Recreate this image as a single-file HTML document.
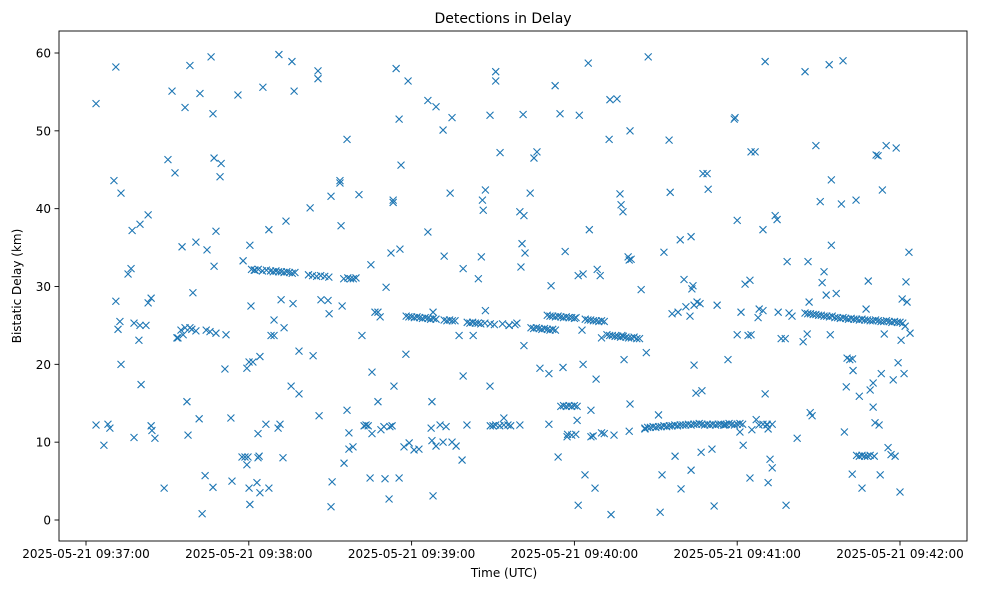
<!DOCTYPE html>
<html><head><meta charset="utf-8"><style>
html,body{margin:0;padding:0;background:#fff;}
svg{display:block;font-family:"DejaVu Sans","Liberation Sans",sans-serif;}
</style></head><body>
<svg id="chart" width="981" height="590" viewBox="0 0 981 590" xmlns="http://www.w3.org/2000/svg">
<rect x="0" y="0" width="981" height="590" fill="#fff"/>
<text x="503" y="23" text-anchor="middle" font-size="14">Detections in Delay</text>
<g id="marks"></g>
<rect x="59" y="31" width="908" height="510" fill="none" stroke="#000" stroke-width="0.9"/>
<g id="xticks"></g>
<g id="yticks"></g>
<text x="504" y="577" text-anchor="middle" font-size="12">Time (UTC)</text>
<text x="21" y="286" text-anchor="middle" font-size="12" transform="rotate(-90 21 286)">Bistatic Delay (km)</text>
</svg>
<script>
// seconds after 2025-05-21 09:37:00
const times = [3.7,3.7,6.6,8.1,8.8,11,10.3,11,11.8,12.5,12.9,12.9,15.5,16.6,17,17.7,17.7,19.5,19.9,20.3,19.9,22.1,22.9,22.9,24,24,24.3,25.4,28.8,30.2,31.7,32.8,33.5,33.9,35,35.4,35.8,36.5,36.5,37.2,37.6,38.3,38.3,39,39.4,40.5,40.5,41.7,42,42.8,43.9,44.3,44.6,45.7,46.1,46.8,46.8,47.2,47.2,47.9,47.9,49.8,49.4,51.2,51.6,53.4,53.8,56,57.5,57.9,58.6,59.7,59.3,60.1,60.4,60.1,60.8,60.4,59.3,61.5,62.3,63,63.4,63.4,63.8,64.1,64.1,65.2,66.3,67.4,67.4,68.2,69.3,69.3,70.8,71.1,71.5,71.9,72.6,73,73.7,75.6,75.9,76.3,76.7,78.5,78.5,
61,62,63.5,65,66.5,68,69,70,71,72,73,74,75,76,77,82,83.5,85,86.5,88,89.5,95,96.5,97.5,98.5,99.5,
82.6,83.7,85.5,85.5,85.9,86.6,89.2,89.6,90.3,90.7,90.3,93.6,93.6,94,94.4,95.1,96.2,96.2,96.9,96.9,98.4,100.6,101.7,102.5,103.2,104,104.7,105.4,105,105.4,106.5,107.6,107.6,108.4,108.7,109.8,110.2,110.6,111.7,112.4,112,112.8,113.2,113.2,113.5,114.3,115.4,115.4,115.7,116.1,117.2,117.9,118.7,119.1,120.9,122.7,126,126,127.2,127.5,127.5,127.9,127.9,129,129,130.5,131.6,131.6,132,132.7,134.2,134.9,134.9,136.4,137.5,138.6,139,139,140.4,
118,119,120,121,122,123,124,125,126,127,128,129,132,133,134,135,136,
140.5,141.5,142.5,143.5,144.5,145.5,147,149,150.5,153.5,156,149,150,151,152.5,154,156.5,
142.7,144.6,145.7,146.1,146.4,147.2,147.2,148.9,148.9,151,151,152.6,154,155.5,155.9,158.1,158.8,159.9,159.9,160.3,160.7,161.1,161.4,161.8,161.4,163.7,165.1,166.2,167.3,170.6,170.6,171.4,172.9,174,174.7,175.8,176.6,177.3,180.6,181.4,181,181.4,181.8,182.8,183.2,183.2,183.9,185.1,185.5,186.1,186.1,186.9,188,187.6,188.4,189.5,190,190,191,192.8,193.1,193.5,194.6,195.7,196.8,197.2,197.5,197.9,198.3,199.8,200.2,200.5,200.5,200.2,200.9,204.6,206.5,206,207.2,
164,165,166,167,168,169,170,171,172,173,170,171,172,173,174,175,176,177,178,179,180,175,176,177,178,179,180,181,177.5,179,180.5,184,185,186,187,188,189,190,191,192,193,194,195,196,197,198,199,200,201,202,203,204,
206,207,208,209,210,211,212,213,214,215,216,217,218,219,220,221,222,223,224,225,226,227,228,229,230,231,232,233,234,235,236,237,238,239,240,241,242,248,249.5,251,
211,211.6,212.3,213,214.9,215.3,216,217.1,218.2,219,219.3,220.4,221.1,222.6,223,223,223.3,223.7,224.1,224.1,224.8,225.2,226.3,226.7,227,227.4,228.9,229.3,230.7,231.5,232.6,235.5,236.6,238.9,239.2,240,240,241,241.4,242.2,242.9,244,244.7,244.7,245.1,245.4,245.1,246.6,247,247.7,248.1,249.5,249.5,250.3,250.3,251,251.4,251.4,252.1,252.9,252.9,254,254.7,255.1,256.2,257.7,258,258.4,259.1,260.2,262.1,264.3,265,265.8,266.1,266.5,266.9,267.6,269,270.6,271.3,272,272.8,273.9,274.3,274.7,274.7,276.5,278.4,279,279.5,280.2,282.4,282.7,283.8,285,286,287.5,288.3,289,290.1,290.1,290.8,291.2,291.9,292.3,292.7,293.1,293.5,294.2,294.9,295.6,296.7,297.5,298.2,298.6,299.3,300,300.4,300.8,301.5,301.9,302.2,302.6,303.3,303.7,
265,266,267,268,269,270,271,272,273,274,275,276,277,278,279,280,281,282,283,284,285,286,287,288,289,290,291,292,293,294,295,296,297,298,299,300,301,
284,285,286,287,288,289,290.5,280.5,281.5,282.5];
const delays = [53.5,12.2,9.6,12.3,11.8,58.2,43.6,28.1,24.5,25.5,20,42,31.6,32.3,37.2,10.6,25.3,23.1,38,17.4,25,25,27.9,39.2,28.5,12.1,11.5,10.5,4.1,46.3,55.1,44.6,23.4,23.4,24.4,35.1,23.8,53,24.7,15.2,10.9,58.4,24.7,24.5,29.2,35.7,24.3,13,54.8,0.8,5.7,24.4,34.7,24.2,59.5,4.2,52.2,32.6,46.5,37.1,24,45.8,44.1,19.4,23.8,13.1,5,54.6,8.1,33.3,8.1,8.1,7.1,4.1,2,20.3,27.5,35.3,19.5,20.3,32.1,4.8,11.1,8,8.2,3.5,21,55.6,12.3,4.1,37.3,23.7,23.7,25.7,11.8,59.8,12.3,28.3,8,24.7,38.4,17.2,58.9,27.8,55.1,16.2,21.7,
32.2,32.1,32.2,32,32.1,32,31.9,32,31.9,31.9,31.8,31.9,31.8,31.7,31.8,31.5,31.4,31.3,31.4,31.3,31.2,31,31.1,31,31,31.1,
40.1,21.1,57.7,56.7,13.4,28.3,28.2,26.5,1.7,4.9,41.6,43.3,43.6,37.8,27.5,7.3,48.9,14.1,9.1,11.2,9.4,41.8,23.7,12.1,12.2,12.1,5.4,11.1,32.8,19,26.7,26.7,15.2,26.1,11.6,12,5.3,29.9,2.7,34.3,12,12.1,40.8,41.1,17.2,58,51.5,5.4,34.8,45.6,9.4,21.3,56.4,9.9,9,9.1,53.9,37,11.8,15.2,10.2,26.7,3.1,53.1,9.5,12.2,50.1,10,33.9,12,42,51.7,10,9.5,23.7,7.7,18.5,32.3,12.2,
26.2,26.1,26.1,26,26.1,26,25.9,26,25.9,25.8,25.9,25.8,25.7,25.6,25.7,25.6,25.6,
25.4,25.3,25.4,25.3,25.3,25.2,25.3,25.2,25.1,25.2,25,12.1,12.1,12.2,12.1,12.2,12.1,
23.7,31,33.8,41.1,39.8,42.4,26.9,17.2,52,56.4,57.6,47.2,13.1,12.2,25,25.1,25.3,12.2,39.6,32.5,35.5,52.1,22.4,34.3,39.1,42,46.5,47.3,19.5,18.8,12.3,30.1,55.8,8.1,52.2,19.6,34.5,10.7,26,1.9,12.8,31.4,52,24.4,31.6,20,5.8,58.7,37.3,10.7,14.1,10.8,18.1,4.1,32.2,31.4,23.4,11.2,11.1,48.9,54,0.7,10.9,54.1,41.9,40.5,23.7,39.6,20.6,33.8,33.4,50,14.9,11.4,33.5,29.6,21.5,11.7,59.5,
24.7,24.6,24.7,24.6,24.5,24.6,24.5,24.4,24.5,24.4,26.3,26.2,26.2,26.1,26.2,26.1,26,26.1,26,26,25.9,14.6,14.7,14.6,14.7,14.6,14.7,14.6,11,10.9,11,25.8,25.7,25.7,25.6,25.6,25.5,25.6,25.5,23.8,23.7,23.7,23.6,23.6,23.5,23.6,23.5,23.4,23.4,23.5,23.3,23.3,
11.8,11.9,11.9,12,11.9,12,12,12.1,12,12.1,12.1,12.2,12.1,12.2,12.2,12.2,12.3,12.2,12.3,12.3,12.4,12.3,12.2,12.3,12.2,12.3,12.2,12.3,12.3,12.2,12.3,12.4,12.3,12.2,12.3,12.4,12.3,12.2,12.3,12.2,
13.5,1,5.8,34.4,48.8,42.1,26.5,8.2,26.7,36,4,30.9,27.4,26.2,36.4,6.4,29.7,30.1,19.9,27.6,16.3,28,27.8,8.7,16.6,44.5,44.5,42.5,9.1,1.8,27.6,12.2,20.6,51.5,51.7,38.5,23.8,11.3,26.7,9.6,30.3,23.7,30.8,5.4,23.8,11.6,47.3,47.3,12.9,26,27.1,26.9,37.3,58.9,16.2,12.3,4.8,11.7,7.8,12.3,6.7,39.1,38.6,26.7,23.3,23.3,1.9,33.2,26.6,26.2,10.5,22.9,57.6,23.9,33.2,28,13.8,13.4,48.1,40.9,30.5,31.9,28.9,58.5,23.8,35.3,43.7,29.1,40.6,59,11.3,17.1,5.9,19.2,41.1,15.9,4.1,27.1,30.7,16.7,17.6,14.5,12.5,46.9,46.8,12.2,5.8,18.8,42.4,23.9,48.1,9.3,8.4,18,8.2,47.8,20.2,3.6,23.1,28.4,18.8,24.9,30.6,28,34.4,24,
26.6,26.5,26.5,26.4,26.4,26.3,26.3,26.2,26.2,26.1,26.2,26,26,25.9,26,25.9,25.8,25.9,25.8,25.8,25.7,25.8,25.7,25.7,25.6,25.6,25.7,25.6,25.5,25.5,25.6,25.5,25.4,25.5,25.4,25.4,25.3,
8.3,8.2,8.3,8.2,8.2,8.3,8.2,20.8,20.6,20.7];
const xTickSeconds = [0,60,120,180,240,300];
const xTickLabels = ["2025-05-21 09:37:00","2025-05-21 09:38:00","2025-05-21 09:39:00","2025-05-21 09:40:00","2025-05-21 09:41:00","2025-05-21 09:42:00"];
const yTickValues = [0,10,20,30,40,50,60];

const NS = "http://www.w3.org/2000/svg";
const X0 = 86, PXPERSEC = 814/300, Y0 = 520, PXPERKM = 467/60;
function xScale(t){ return X0 + t*PXPERSEC; }
function yScale(v){ return Y0 - v*PXPERKM; }

const marks = document.getElementById('marks');
const n = Math.min(times.length, delays.length);
for (let i=0;i<n;i++){
  const cx = xScale(times[i]), cy = yScale(delays[i]), r = 3.5;
  const p = document.createElementNS(NS,'path');
  p.setAttribute('d',`M${cx-r},${cy-r}L${cx+r},${cy+r}M${cx-r},${cy+r}L${cx+r},${cy-r}`);
  p.setAttribute('stroke','#1f77b4');
  p.setAttribute('stroke-width','1.1');
  p.setAttribute('fill','none');
  
  
  marks.appendChild(p);
}
const xg = document.getElementById('xticks');
xTickSeconds.forEach((s,i)=>{
  const x = xScale(s);
  const l = document.createElementNS(NS,'line');
  l.setAttribute('x1',x); l.setAttribute('x2',x); l.setAttribute('y1',541); l.setAttribute('y2',545.5);
  l.setAttribute('stroke','#000'); l.setAttribute('stroke-width','0.9');
  
  
  xg.appendChild(l);
  const t = document.createElementNS(NS,'text');
  t.setAttribute('x',x); t.setAttribute('y',558); t.setAttribute('text-anchor','middle'); t.setAttribute('font-size','12');
  t.textContent = xTickLabels[i];
  
  
  xg.appendChild(t);
});
const yg = document.getElementById('yticks');
yTickValues.forEach(v=>{
  const y = yScale(v);
  const l = document.createElementNS(NS,'line');
  l.setAttribute('x1',54.5); l.setAttribute('x2',59); l.setAttribute('y1',y); l.setAttribute('y2',y);
  l.setAttribute('stroke','#000'); l.setAttribute('stroke-width','0.9');
  
  
  yg.appendChild(l);
  const t = document.createElementNS(NS,'text');
  t.setAttribute('x',51); t.setAttribute('y',y+4.5); t.setAttribute('text-anchor','end'); t.setAttribute('font-size','12');
  t.textContent = String(v);
  
  
  yg.appendChild(t);
});
</script>
</body></html>
